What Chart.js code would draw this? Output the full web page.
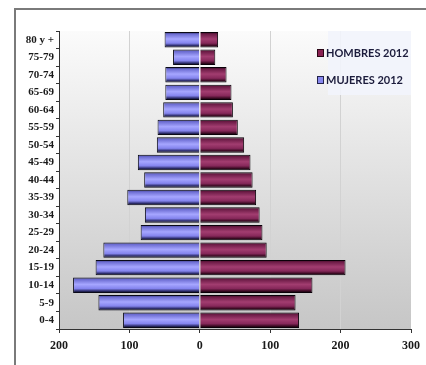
<!DOCTYPE html>
<html>
<head>
<meta charset="utf-8">
<script src="https://cdn.jsdelivr.net/npm/chart.js@4/dist/chart.umd.min.js"></script>
<style>
    html, body { margin: 0; padding: 0; background: #fff; }
    #wrap { position: relative; width: 426px; height: 365px; overflow: hidden; }
    #frame { position: absolute; left: 14px; top: 8px; right: -5px; bottom: -5px; border-top: 2px solid #7a7a7a; border-left: 2px solid #7a7a7a; }
    #chart { position: absolute; left: 0; top: 0; }
</style>
</head>
<body>
<div id="wrap">
    <div id="frame"></div>
    <canvas id="chart" width="426" height="365"></canvas>
</div>
<script>
// age groups, bottom to top
const ageGroups = ['0-4', '5-9', '10-14', '15-19', '20-24', '25-29', '30-34', '35-39', '40-44',
    '45-49', '50-54', '55-59', '60-64', '65-69', '70-74', '75-79', '80 y +'];
const hombres2012 = [141, 136, 160, 207, 95, 89, 85, 80, 75, 72, 63, 54, 47, 45, 38, 22, 26];
const mujeres2012 = [109, 144, 180, 148, 137, 84, 78, 103, 79, 88, 61, 60, 52, 49, 49, 38, 50];
const xTicks = [-200, -100, 0, 100, 200, 300];

const menStops = [[0, '#1c0410'], [0.12, '#6a1a44'], [0.45, '#a23d70'], [0.72, '#86285a'], [0.88, '#3a0a22'], [1, '#050005']];
const womenStops = [[0, '#14143a'], [0.12, '#6a6ad0'], [0.45, '#a6a6ff'], [0.72, '#8484ee'], [0.88, '#2c2c6a'], [1, '#050510']];

function barFill(ctx, stops) {
    const chart = ctx.chart;
    const y = chart.scales.y;
    if (!y || ctx.type !== 'data') return stops[2][1];
    const c = y.getPixelForValue(ctx.dataIndex);
    const band = Math.abs(y.getPixelForValue(1) - y.getPixelForValue(0));
    if (!isFinite(c) || !isFinite(band) || band === 0) return stops[2][1];
    const h = band * 0.88;
    const g = chart.ctx.createLinearGradient(0, c - h / 2, 0, c + h / 2);
    stops.forEach(s => g.addColorStop(s[0], s[1]));
    return g;
}

const plotBg = {
    id: 'plotBg',
    beforeDraw(chart) {
        const { ctx, chartArea: a } = chart;
        const g = ctx.createLinearGradient(0, a.top, 0, a.bottom);
        g.addColorStop(0, '#fbfbfb');
        g.addColorStop(1, '#c6c6c6');
        ctx.save();
        ctx.fillStyle = g;
        ctx.fillRect(a.left, a.top, a.right - a.left, a.bottom - a.top);
        ctx.restore();
    }
};

// legend sits inside the plot, top right
const boxLegend = {
    id: 'boxLegend',
    afterDatasetsDraw(chart) {
        const { ctx, chartArea: a } = chart;
        const x0 = a.right - 88, y0 = a.top;
        ctx.save();
        ctx.fillStyle = 'rgba(242,244,252,0.9)';
        ctx.fillRect(x0 + 5, y0, 83, 64);
        const sw = [['#8a2252', '#2a0515'], ['#8888ee', '#22224a']];
        ctx.font = 'bold 11px Lato, "Open Sans", sans-serif';
        ctx.textBaseline = 'middle';
        chart.data.datasets.forEach((ds, i) => {
            const yy = y0 + 22 + i * 27;
            ctx.fillStyle = sw[i][0];
            ctx.strokeStyle = sw[i][1];
            ctx.lineWidth = 1;
            ctx.fillRect(x0 - 5.5, yy - 3.5, 6, 7);
            ctx.strokeRect(x0 - 5.5, yy - 3.5, 6, 7);
            ctx.fillStyle = '#1c1c3c';
            ctx.fillText(ds.label, x0 + 3, yy + 0.5);
        });
        ctx.restore();
    }
};

new Chart(document.getElementById('chart'), {
    type: 'bar',
    data: {
        labels: ageGroups,
        datasets: [
            {
                label: 'HOMBRES 2012',
                data: hombres2012,
                backgroundColor: ctx => barFill(ctx, menStops),
                borderColor: '#0a0008',
                borderWidth: 1
            },
            {
                label: 'MUJERES 2012',
                data: mujeres2012.map(v => -v),
                backgroundColor: ctx => barFill(ctx, womenStops),
                borderColor: '#0a0a18',
                borderWidth: 1
            }
        ]
    },
    options: {
        indexAxis: 'y',
        responsive: false,
        animation: false,
        categoryPercentage: 1,
        barPercentage: 0.88,
        layout: { padding: { left: 0, top: 31, right: 15, bottom: 0 } },
        plugins: {
            legend: { display: false },
            tooltip: { enabled: false }
        },
        scales: {
            x: {
                stacked: true,
                min: -200,
                max: 300,
                afterBuildTicks: s => { s.ticks = xTicks.map(v => ({ value: v })); },
                afterFit: s => { s.height = 36; },
                grid: {
                    color: c => (c.tick && (c.tick.value === -100 || c.tick.value === 100 || c.tick.value === 200)) ? '#d2d2d2' : 'rgba(0,0,0,0)',
                    tickColor: '#333',
                    tickLength: 4
                },
                border: { color: '#333', width: 1 },
                ticks: {
                    callback: v => Math.abs(v),
                    color: '#1a1a1a',
                    padding: 6,
                    font: { family: '"Liberation Serif", serif', weight: 'bold', size: 12 }
                }
            },
            y: {
                stacked: true,
                reverse: true,
                afterFit: s => { s.width = 59; },
                grid: {
                    offset: true,
                    drawOnChartArea: false,
                    tickColor: '#333',
                    tickLength: 3
                },
                border: { color: '#333', width: 1 },
                ticks: {
                    color: '#1a1a1a',
                    padding: 2,
                    autoSkip: false,
                    font: { family: '"Liberation Serif", serif', weight: 'bold', size: 11 }
                }
            }
        }
    },
    plugins: [plotBg, boxLegend]
});
</script>
</body>
</html>
